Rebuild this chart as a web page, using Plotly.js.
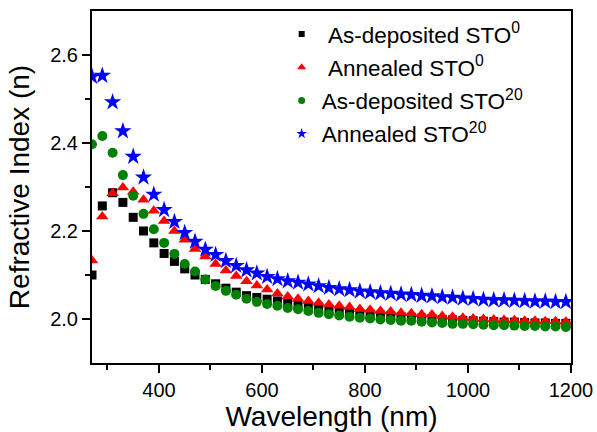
<!DOCTYPE html>
<html>
<head>
<meta charset="utf-8">
<script src="https://cdn.plot.ly/plotly-3.0.1.min.js"></script>
<style>html,body{margin:0;padding:0;background:#fff;}#chart{width:597px;height:432px;}</style>
</head>
<body>
<div id="chart"></div>
<script>
// Wavelength (nm)
const wavelength = [270,290,310,330,350,370,390,410,430,450,470,490,510,530,550,570,590,610,630,650,670,690,710,730,750,770,790,810,830,850,870,890,910,930,950,970,990,1010,1030,1050,1070,1090,1110,1130,1150,1170,1190];

const asDepSTO0 = [2.100,2.257,2.287,2.265,2.231,2.200,2.173,2.149,2.131,2.114,2.100,2.090,2.080,2.070,2.061,2.053,2.049,2.045,2.041,2.037,2.033,2.030,2.027,2.022,2.019,2.016,2.013,2.011,2.009,2.007,2.005,2.004,2.002,2.001,1.999,1.998,1.997,1.996,1.995,1.994,1.993,1.993,1.992,1.991,1.991,1.990,1.990];

const annealedSTO0 = [2.133,2.233,2.286,2.299,2.289,2.271,2.246,2.223,2.200,2.180,2.159,2.142,2.125,2.110,2.098,2.086,2.076,2.067,2.058,2.051,2.046,2.041,2.037,2.033,2.030,2.027,2.023,2.021,2.018,2.017,2.014,2.013,2.011,2.010,2.007,2.005,2.003,2.001,2.000,1.999,1.998,1.997,1.996,1.996,1.995,1.995,1.994];

const asDepSTO20 = [2.397,2.416,2.378,2.327,2.280,2.239,2.204,2.173,2.148,2.125,2.108,2.090,2.075,2.064,2.055,2.046,2.039,2.034,2.030,2.025,2.022,2.018,2.014,2.011,2.008,2.005,2.003,2.001,1.999,1.998,1.996,1.996,1.994,1.992,1.991,1.989,1.989,1.988,1.987,1.986,1.986,1.985,1.984,1.984,1.983,1.983,1.982];

const annealedSTO20 = [2.551,2.553,2.493,2.427,2.369,2.322,2.283,2.248,2.221,2.196,2.176,2.158,2.146,2.132,2.121,2.111,2.104,2.096,2.091,2.086,2.083,2.079,2.075,2.071,2.068,2.066,2.063,2.061,2.059,2.058,2.056,2.055,2.053,2.052,2.050,2.049,2.047,2.046,2.044,2.043,2.043,2.042,2.041,2.040,2.040,2.039,2.039];

const seriesNames = ['\u00a0As-deposited STO<sup>0</sup>', '\u00a0Annealed STO<sup>0</sup>', 'As-deposited STO<sup>20</sup>', 'Annealed STO<sup>20</sup>'];
const seriesValues = [asDepSTO0, annealedSTO0, asDepSTO20, annealedSTO20];
const seriesColors = ['#000000', '#ff0000', '#008000', '#0000ff'];
const seriesSymbols = ['square', 'triangle-up', 'circle', 'star'];
const seriesSizes = [9, 11, 10, 13];
const legendSizes = [6, 8, 7, 8];

const FONT = 'Arial, "Liberation Sans", sans-serif';
const traces = [];
seriesValues.forEach((vals, i) => {
  traces.push({
    x: wavelength, y: vals, type: 'scatter', mode: 'markers',
    marker: {symbol: seriesSymbols[i], color: seriesColors[i], size: seriesSizes[i], line: {width: 0}},
    showlegend: false, cliponaxis: true, hoverinfo: 'skip'
  });
});
seriesValues.forEach((vals, i) => {
  traces.push({
    x: [null], y: [null], type: 'scatter', mode: 'markers', name: seriesNames[i],
    legendgroup: 'g' + i,
    marker: {symbol: seriesSymbols[i], color: seriesColors[i], size: legendSizes[i], line: {width: 0}},
    showlegend: true
  });
});

const layout = {
  width: 597, height: 432,
  margin: {l: 92, r: 26, t: 11, b: 69, pad: 0},
  paper_bgcolor: '#ffffff', plot_bgcolor: '#ffffff',
  font: {family: FONT, color: '#000000'},
  showlegend: true,
  legend: {
    x: 0.396, y: 0.995, xanchor: 'left', yanchor: 'top',
    font: {family: FONT, size: 22.5, color: '#000'},
    bgcolor: 'rgba(0,0,0,0)', borderwidth: 0,
    tracegroupgap: 1, itemwidth: 30
  },
  xaxis: {
    range: [270, 1200], autorange: false,
    tickmode: 'array', tickvals: [400, 600, 800, 1000, 1200],
    ticks: 'outside', ticklen: 8, tickwidth: 2, tickcolor: '#000',
    minor: {tickvals: [300, 500, 700, 900, 1100], ticks: 'outside', ticklen: 5, tickwidth: 2, tickcolor: '#000'},
    showline: true, linewidth: 2, linecolor: '#000', mirror: true,
    showgrid: false, zeroline: false,
    tickfont: {family: FONT, size: 20, color: '#000'},
    title: {text: 'Wavelength (nm)', font: {family: FONT, size: 28, color: '#000'}, standoff: 4},
    automargin: false
  },
  yaxis: {
    range: [1.9, 2.7], autorange: false,
    tickmode: 'array', tickvals: [2.0, 2.2, 2.4, 2.6], ticktext: ['2.0', '2.2', '2.4', '2.6'],
    ticks: 'outside', ticklen: 8, tickwidth: 2, tickcolor: '#000',
    minor: {tickvals: [2.1, 2.3, 2.5], ticks: 'outside', ticklen: 5, tickwidth: 2, tickcolor: '#000'},
    showline: true, linewidth: 2, linecolor: '#000', mirror: true,
    showgrid: false, zeroline: false,
    tickfont: {family: FONT, size: 20, color: '#000'},
    title: {text: 'Refractive Index (n)', font: {family: FONT, size: 28, color: '#000'}, standoff: 12},
    automargin: false
  }
};

Plotly.newPlot('chart', traces, layout, {displayModeBar: false, staticPlot: true});
</script>
</body>
</html>
